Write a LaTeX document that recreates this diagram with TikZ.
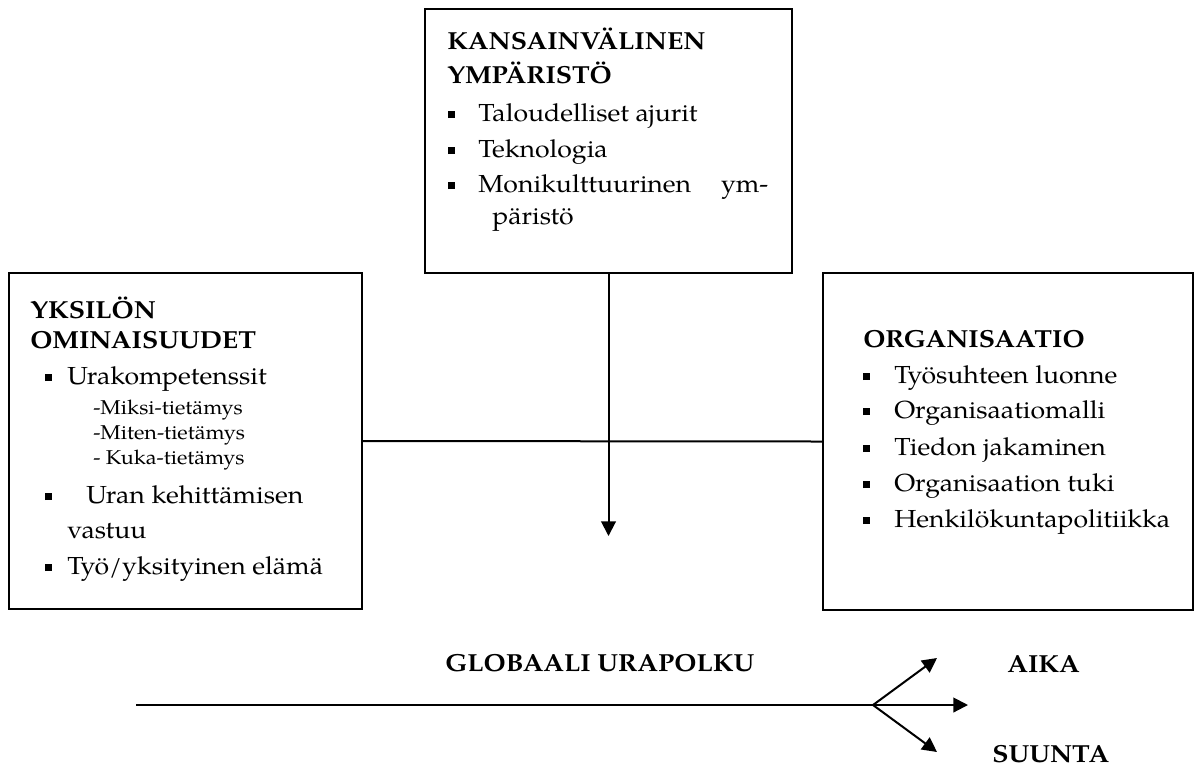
\documentclass[tikz,border=0pt]{standalone}
\usepackage{fontspec}
\setmainfont{texgyrepagella}[Extension=.otf, UprightFont=*-regular, BoldFont=*-bold, ItalicFont=*-italic, BoldItalicFont=*-bolditalic, FakeStretch=1.08]
\usetikzlibrary{arrows.meta}
\newcommand\sqbul{\rule[2.2pt]{5pt}{5pt}}
\newcommand\bl[1]{\makebox[#1][l]{\sqbul}}
\begin{document}
\begin{tikzpicture}[x=0.75pt,y=-0.75pt,
  box/.style={draw, line width=1.4pt, inner sep=0pt, outer sep=0pt},
  txt/.style={anchor=base west, inner sep=0pt, font=\fontsize{18.5}{22}\selectfont},
  hd/.style={anchor=base west, inner sep=0pt, font=\fontsize{18.5}{22}\selectfont\bfseries},
  sm/.style={anchor=base west, inner sep=0pt, font=\fontsize{15}{18}\selectfont},
  conn/.style={line width=1.5pt},
  arr/.style={conn, -{Triangle[length=11pt,width=11pt]}}]
\useasboundingbox (0,0) rectangle (1195,769);
% boxes
\node[box, anchor=north west, minimum width=275.25pt, minimum height=198pt] (top) at (425,9) {};
\node[box, anchor=north west, minimum width=264.75pt, minimum height=252pt] (left) at (9,273) {};
\node[box, anchor=north west, minimum width=277.5pt, minimum height=252.75pt] (right) at (823,273) {};
% top box text
\node[hd] (t1) at (447,49) {KANSAINVÄLINEN};
\node[hd] (t2) at (447,83) {YMPÄRISTÖ};
\node[txt] (t3) at (448,121) {\bl{22.5pt}Taloudelliset ajurit};
\node[txt] (t4) at (448,157) {\bl{22.5pt}Teknologia};
\node[txt] (t5) at (448,192) {\makebox[240pt][l]{\bl{22.5pt}Monikulttuurinen\hfill ym-}};
\node[txt] (t6) at (492,224) {päristö};
% left box text
\node[hd] (l1) at (30,318) {YKSILÖN};
\node[hd] (l2) at (30,348) {OMINAISUUDET};
\node[txt] (l3) at (45,384) {\bl{16.5pt}Urakompetenssit};
\node[sm] (l4) at (93,414) {-Miksi-tietämys};
\node[sm] (l5) at (93,439) {-Miten-tietämys};
\node[sm] (l6) at (93,464) {- Kuka-tietämys};
\node[txt] (l7) at (45,503) {\bl{30.75pt}Uran kehittämisen};
\node[txt] (l8) at (67,538) {vastuu};
\node[txt] (l9) at (45,574) {\bl{16.5pt}Työ/yksityinen elämä};
% right box text
\node[hd] (r1) at (863,347) {ORGANISAATIO};
\node[txt] (r2) at (863,383) {\bl{23.25pt}Työsuhteen luonne};
\node[txt] (r3) at (863,418) {\bl{23.25pt}Organisaatiomalli};
\node[txt] (r4) at (863,455) {\bl{23.25pt}Tiedon jakaminen};
\node[txt] (r5) at (863,491) {\bl{23.25pt}Organisaation tuki};
\node[txt] (r6) at (863,527) {\bl{23.25pt}\resizebox{207pt}{\height}{Henkilökuntapolitiikka}};
% connectors
\draw[conn] (left.east) -- (right.west);
\coordinate (tip) at (608.5,536);
\draw[arr] (top.south) -- (tip);
% bottom path
\coordinate (start) at (136,705);
\coordinate (br) at (873,705);
\coordinate (e1) at (968,705);
\coordinate (e2) at (937,658);
\coordinate (e3) at (937,752);
\draw[conn] (start) -- (br);
\draw[arr] (br) -- (e1);
\draw[arr] (br) -- (e2);
\draw[arr] (br) -- (e3);
\node[hd] (g) at (445,671) {GLOBAALI URAPOLKU};
\node[hd] (aika) at (1007,672) {AIKA};
\node[hd] (suunta) at (992,762) {SUUNTA};
\end{tikzpicture}
\end{document}
